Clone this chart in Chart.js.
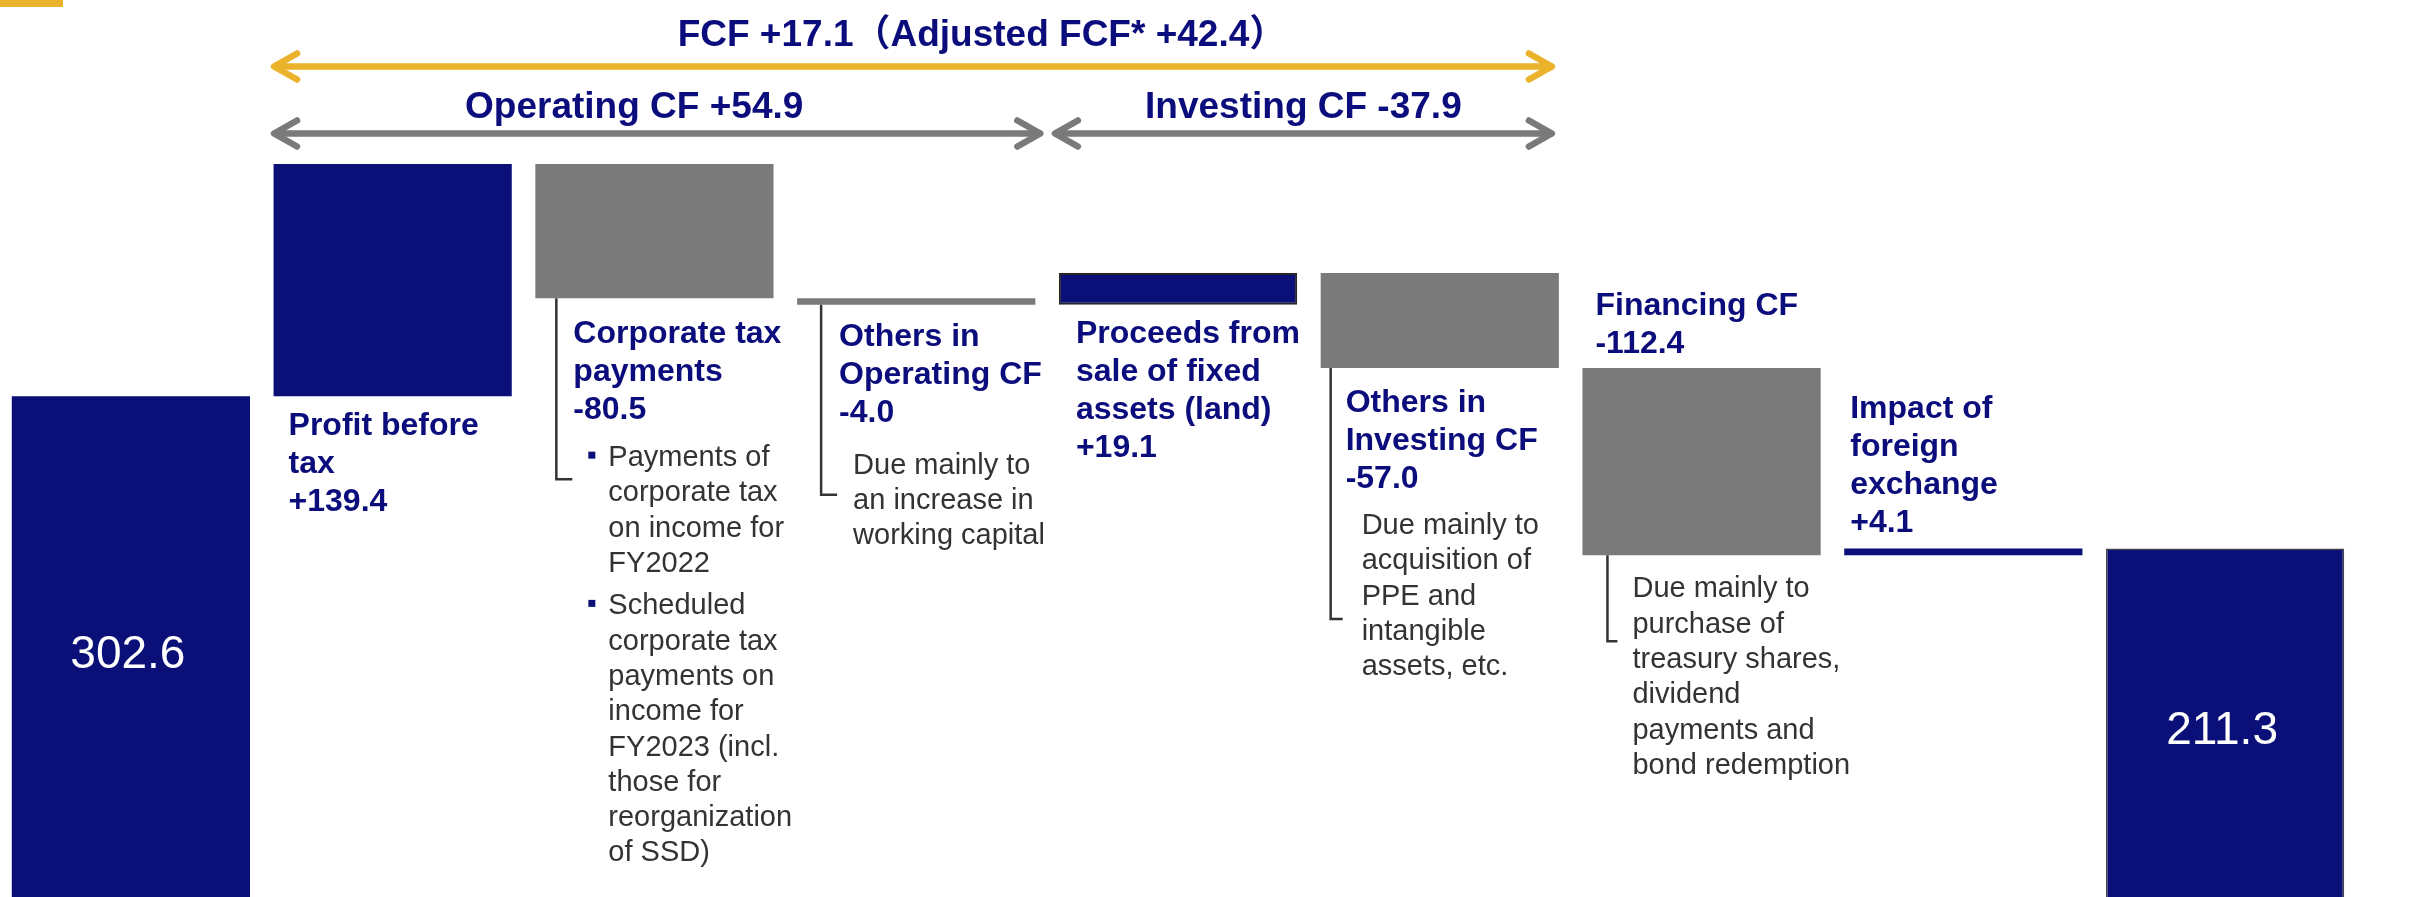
<!DOCTYPE html>
<html>
<head>
<meta charset="utf-8">
<title>Cash flow bridge</title>
<script src="https://cdn.jsdelivr.net/npm/chart.js@4.4.1/dist/chart.umd.min.js"></script>
<style>
  html, body { margin: 0; padding: 0; background: #fff; overflow: hidden; }
  #wrap { position: relative; width: 2423px; height: 897px; }
</style>
</head>
<body>
<div id="wrap"><canvas id="cfChart"></canvas></div>
<script>
// cash flow bridge
const categories = ['Cash at beginning', 'Profit before tax', 'Corporate tax payments', 'Others in Operating CF',
  'Proceeds from sale of fixed assets (land)', 'Others in Investing CF', 'Financing CF',
  'Impact of foreign exchange', 'Cash at end'];
const openingCash = 302.6;
const cashChanges = [139.4, -80.5, -4.0, 19.1, -57.0, -112.4, 4.1];
const closingCash = 211.3;

const headerFcf = 'FCF +17.1（Adjusted FCF* +42.4）';
const headerOperating = 'Operating CF +54.9';
const headerInvesting = 'Investing CF -37.9';

const barTitles = [
  [],
  ['Profit before', 'tax', '+139.4'],
  ['Corporate tax', 'payments', '-80.5'],
  ['Others in', 'Operating CF', '-4.0'],
  ['Proceeds from', 'sale of fixed', 'assets (land)', '+19.1'],
  ['Others in', 'Investing CF', '-57.0'],
  ['Financing CF', '-112.4'],
  ['Impact of', 'foreign', 'exchange', '+4.1'],
  []
];
// notes: list of paragraphs, each a list of lines
const barNotes = [
  [],
  [],
  [['Payments of', 'corporate tax', 'on income for', 'FY2022'],
   ['Scheduled', 'corporate tax', 'payments on', 'income for', 'FY2023 (incl.', 'those for', 'reorganization', 'of SSD)']],
  [['Due mainly to', 'an increase in', 'working capital']],
  [],
  [['Due mainly to', 'acquisition of', 'PPE and', 'intangible', 'assets, etc.']],
  [['Due mainly to', 'purchase of', 'treasury shares,', 'dividend', 'payments and', 'bond redemption']],
  [],
  []
];

// waterfall ranges
const ranges = [[0, openingCash]];
let running = openingCash;
cashChanges.forEach(c => {
  const next = Math.round((running + c) * 10) / 10;
  ranges.push([running, next]);
  running = next;
});
ranges.push([0, closingCash]);

const NAVY = '#0a1078';
const TEXT_NAVY = '#0c0d7c';
const GREY = '#7a7a7a';
const GOLD = '#ebb22b';
const BODY = '#333333';
const SANS = '"Liberation Sans", Arial, "Noto Sans CJK JP", sans-serif';

const barColors = ranges.map((r, i) =>
  (i === 0 || i === ranges.length - 1 || r[1] > r[0]) ? NAVY : GREY);

// label placement relative to each bar (pixels)
const labelLayout = {
  1: { place: 'below', dx: 15, gap: 39 },
  2: { place: 'below', dx: 38, gap: 45, bracket: { dx: 21, len: 181, foot: 16 }, notes: { dx: 73, gap: 47, bullet: true } },
  3: { place: 'below', dx: 42, gap: 41, bracket: { dx: 24, len: 190, foot: 16 }, notes: { dx: 56, gap: 52 } },
  4: { place: 'below', dx: 17, gap: 38 },
  5: { place: 'below', dx: 25, gap: 44, bracket: { dx: 10, len: 251, foot: 12 }, notes: { dx: 41, gap: 46 } },
  6: { place: 'above', dx: 13, gap: 15, bracket: { dx: 25, len: 86, foot: 10 }, notes: { dx: 50, gap: 42, fromBar: true } },
  7: { place: 'above', dx: 6, gap: 16.5 }
};
const TITLE_LH = 38;
const NOTE_LH = 35.3;

function doubleArrow(ctx, x1, x2, y, color) {
  ctx.strokeStyle = color;
  ctx.lineWidth = 6.5;
  ctx.lineCap = 'round';
  ctx.lineJoin = 'round';
  ctx.beginPath(); ctx.moveTo(x1 + 3, y); ctx.lineTo(x2 - 3, y); ctx.stroke();
  ctx.beginPath(); ctx.moveTo(x1 + 25, y - 13); ctx.lineTo(x1 + 2, y); ctx.lineTo(x1 + 25, y + 13); ctx.stroke();
  ctx.beginPath(); ctx.moveTo(x2 - 25, y - 13); ctx.lineTo(x2 - 2, y); ctx.lineTo(x2 - 25, y + 13); ctx.stroke();
}

const annotate = {
  id: 'annotate',
  afterDatasetsDraw(chart) {
    const ctx = chart.ctx;
    const area = chart.chartArea;
    const bars = chart.getDatasetMeta(0).data;
    const box = i => {
      const b = bars[i];
      return { left: b.x - b.width / 2, right: b.x + b.width / 2,
               top: Math.min(b.y, b.base), bottom: Math.max(b.y, b.base), cx: b.x };
    };
    ctx.save();

    // small gold mark of the slide
    ctx.fillStyle = GOLD;
    ctx.fillRect(0, 0, 63, 7);

    // header arrows
    const fcfL = box(1).left - 1.5, fcfR = box(5).right - 5;
    const opR = box(3).right + 7, invL = box(4).left - 6;
    doubleArrow(ctx, fcfL, fcfR, 66.5, GOLD);
    doubleArrow(ctx, fcfL, opR, 133.5, GREY);
    doubleArrow(ctx, invL, fcfR, 133.5, GREY);

    ctx.fillStyle = TEXT_NAVY;
    ctx.textBaseline = 'alphabetic';
    ctx.textAlign = 'center';
    ctx.font = 'bold 37px ' + SANS;
    ctx.fillText(headerFcf, (fcfL + fcfR) / 2 + 69, 46);
    ctx.fillText(headerOperating, (fcfL + opR) / 2 - 23, 118);
    ctx.fillText(headerInvesting, (invL + fcfR) / 2, 118);

    // totals inside first and last bars
    ctx.fillStyle = '#ffffff';
    ctx.font = '46px ' + SANS;
    [0, ranges.length - 1].forEach(i => {
      const b = box(i);
      ctx.fillText(ranges[i][1].toFixed(1), b.cx - 3, (b.top + area.bottom) / 2 + 21);
    });

    // bar labels, brackets and notes
    ctx.textAlign = 'left';
    Object.keys(labelLayout).forEach(k => {
      const i = +k;
      const lay = labelLayout[i];
      const b = box(i);
      const lines = barTitles[i];
      let first = lay.place === 'below' ? b.bottom + lay.gap
                                        : b.top - lay.gap - (lines.length - 1) * TITLE_LH;
      ctx.fillStyle = TEXT_NAVY;
      ctx.font = 'bold 32px ' + SANS;
      lines.forEach((t, j) => ctx.fillText(t, b.left + lay.dx, first + j * TITLE_LH));
      const lastTitle = first + (lines.length - 1) * TITLE_LH;

      if (lay.bracket) {
        const bx = b.left + lay.bracket.dx;
        ctx.strokeStyle = BODY;
        ctx.lineWidth = 2.5;
        ctx.lineCap = 'butt';
        ctx.lineJoin = 'miter';
        ctx.beginPath();
        ctx.moveTo(bx, b.bottom);
        ctx.lineTo(bx, b.bottom + lay.bracket.len);
        ctx.lineTo(bx + lay.bracket.foot, b.bottom + lay.bracket.len);
        ctx.stroke();
      }

      if (lay.notes) {
        let y = lay.notes.fromBar ? b.bottom + lay.notes.gap : lastTitle + lay.notes.gap;
        ctx.font = '29px ' + SANS;
        barNotes[i].forEach((para, p) => {
          if (p > 0) y += 7;
          if (lay.notes.bullet) {
            ctx.fillStyle = NAVY;
            ctx.fillRect(b.left + 53, y - 14.5, 7, 7);
          }
          ctx.fillStyle = BODY;
          para.forEach(t => { ctx.fillText(t, b.left + lay.notes.dx, y); y += NOTE_LH; });
        });
      }
    });
    ctx.restore();
  }
};

const ctxEl = document.getElementById('cfChart').getContext('2d');
new Chart(ctxEl, {
  type: 'bar',
  data: {
    labels: categories,
    datasets: [{
      label: 'Cash',
      data: ranges,
      backgroundColor: barColors,
      borderColor: ctx => ctx.dataIndex === 4 ? '#262626' : '#444444',
      borderWidth: ctx => ctx.dataIndex === 4 ? 2 : (ctx.dataIndex === 8 ? 1.5 : 0),
      borderSkipped: false,
      categoryPercentage: 1.0,
      barPercentage: 0.91
    }]
  },
  options: {
    responsive: true,
    maintainAspectRatio: false,
    animation: false,
    devicePixelRatio: 1,
    layout: { padding: { left: 0, right: 67, top: 0, bottom: 0 } },
    plugins: {
      legend: { display: false },
      title: { display: false },
      tooltip: { enabled: false }
    },
    scales: {
      x: { display: false },
      y: { display: false, min: 2.2, max: 540.4 }
    }
  },
  plugins: [annotate]
});
</script>
</body>
</html>
